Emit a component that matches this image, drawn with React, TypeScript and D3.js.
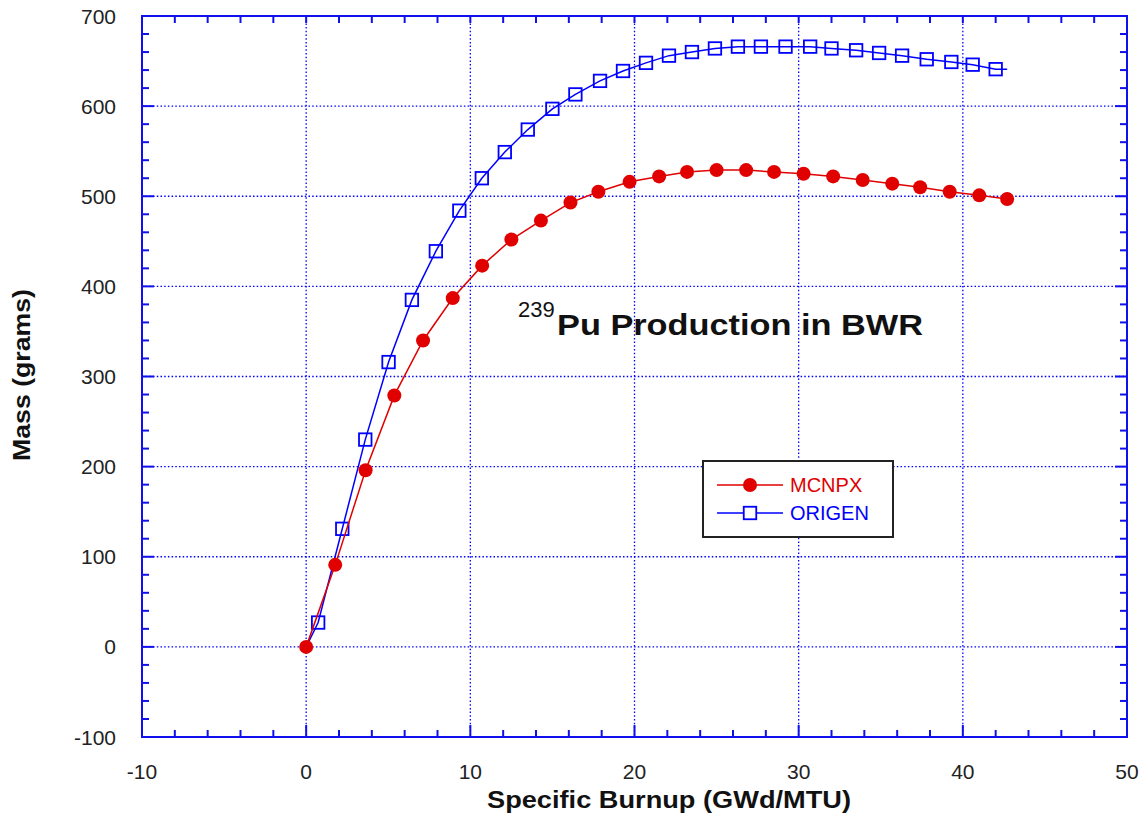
import React from "react";
import * as d3 from "d3";

const mcnpxX = [0, 1.77, 3.62, 5.37, 7.12, 8.93, 10.72, 12.5, 14.3, 16.1, 17.8, 19.7, 21.5, 23.2, 25.0, 26.8, 28.5, 30.3, 32.1, 33.9, 35.7, 37.4, 39.2, 41.0, 42.7];
const mcnpxY = [0, 91, 196, 279, 340, 387, 423, 452, 473, 493, 505, 516, 522, 527, 529, 529, 527, 525, 522, 518, 514, 510, 505, 501, 497];

const origenX = [0, 0.73, 2.2, 3.6, 5.02, 6.44, 7.9, 9.33, 10.7, 12.1, 13.5, 15.0, 16.4, 17.9, 19.3, 20.7, 22.1, 23.5, 24.9, 26.3, 27.7, 29.2, 30.7, 32.0, 33.5, 34.9, 36.3, 37.8, 39.3, 40.6, 42.0, 42.7];
const origenY = [0, 27, 131, 230, 316, 385, 439, 484, 520, 549, 574, 597, 613, 628, 639, 648, 656, 660, 664, 666, 666, 666, 666, 664, 662, 659, 656, 652, 649, 646, 641, 641];

const xTicks = [-10, 0, 10, 20, 30, 40, 50];
const yTicks = [-100, 0, 100, 200, 300, 400, 500, 600, 700];
const xMinor = d3.range(-10, 50.01, 2);
const yMinor = d3.range(-100, 700.01, 20);

const seriesNames = ["MCNPX", "ORIGEN"];
const titleSup = "239";
const titleMain = "Pu Production in BWR";
const xTitle = "Specific Burnup (GWd/MTU)";
const yTitle = "Mass (grams)";

const RED = "#e00000";
const BLUE = "#0000ff";
const AXIS = "#1010ee";

export default function App() {
  const W = 1146, H = 823;
  const x = d3.scaleLinear().domain([-10, 50]).range([142, 1127]);
  const y = d3.scaleLinear().domain([-100, 700]).range([737, 16]);
  const [x0, x1] = x.range();
  const [y0, y1] = y.range();

  const line = d3.line<[number, number]>().x(d => x(d[0])).y(d => y(d[1]));
  const red: [number, number][] = mcnpxX.map((v, i) => [v, mcnpxY[i]]);
  const blue: [number, number][] = origenX.map((v, i) => [v, origenY[i]]);
  const blueMarkers = blue.slice(1, blue.length - 1);

  const font = "'Liberation Sans', Arial, sans-serif";
  const majorLen = 12, minorLen = 7;
  const isMajorX = (v: number) => Math.abs(v % 10) < 1e-6;
  const isMajorY = (v: number) => Math.abs(v % 100) < 1e-6;

  const sq = 12.5;
  const cr = 7;

  return (
    <svg width={W} height={H} style={{ position: "absolute", left: 0, top: 0, background: "#fff" }} fontFamily={font}>
      <rect x={0} y={0} width={W} height={H} fill="#fff" />
      {/* grid */}
      <g stroke={BLUE} strokeWidth={1.3} strokeDasharray="1.5,2.2">
        {xTicks.filter(v => v > -10 && v < 50).map(v => (
          <line key={"gx" + v} x1={x(v)} x2={x(v)} y1={y1} y2={y0} />
        ))}
        {yTicks.filter(v => v > -100 && v < 700).map(v => (
          <line key={"gy" + v} x1={x0} x2={x1} y1={y(v)} y2={y(v)} />
        ))}
      </g>
      {/* ticks */}
      <g stroke={AXIS} strokeWidth={2}>
        {xMinor.map(v => {
          const L = isMajorX(v) ? majorLen : minorLen;
          return (
            <g key={"tx" + v}>
              <line x1={x(v)} x2={x(v)} y1={y0} y2={y0 - L} />
              <line x1={x(v)} x2={x(v)} y1={y1} y2={y1 + minorLen} />
            </g>
          );
        })}
        {yMinor.map(v => {
          const L = isMajorY(v) ? majorLen : minorLen;
          return (
            <g key={"ty" + v}>
              <line x1={x0} x2={x0 + L} y1={y(v)} y2={y(v)} />
              <line x1={x1} x2={x1 - L} y1={y(v)} y2={y(v)} />
            </g>
          );
        })}
      </g>
      {/* frame */}
      <rect x={x0} y={y1} width={x1 - x0} height={y0 - y1} fill="none" stroke={AXIS} strokeWidth={2} />
      {/* tick labels */}
      <g fontSize={21} fill="#222">
        {xTicks.map(v => (
          <text key={"lx" + v} x={x(v)} y={779} textAnchor="middle">{v}</text>
        ))}
        {yTicks.map(v => (
          <text key={"ly" + v} x={116} y={y(v) + 7.5} textAnchor="end">{v}</text>
        ))}
      </g>
      {/* axis titles */}
      <text x={(487 + 851) / 2} y={808} textAnchor="middle" fontSize={23} fontWeight="bold" fill="#111"
        textLength={364} lengthAdjust="spacingAndGlyphs">{xTitle}</text>
      <text transform={`translate(30, ${375}) rotate(-90)`} textAnchor="middle" fontSize={23} fontWeight="bold" fill="#111"
        textLength={172} lengthAdjust="spacingAndGlyphs">{yTitle}</text>
      {/* series: ORIGEN */}
      <path d={line(blue) || ""} fill="none" stroke={BLUE} strokeWidth={1.5} />
      {blueMarkers.map((d, i) => (
        <rect key={"b" + i} x={x(d[0]) - sq / 2} y={y(d[1]) - sq / 2} width={sq} height={sq}
          fill="none" stroke={BLUE} strokeWidth={1.8} />
      ))}
      {/* series: MCNPX */}
      <path d={line(red) || ""} fill="none" stroke={RED} strokeWidth={1.5} />
      {red.map((d, i) => (
        <circle key={"r" + i} cx={x(d[0])} cy={y(d[1])} r={cr} fill={RED} />
      ))}
      {/* annotation */}
      <text x={518} y={317} fontSize={22} fill="#111">{titleSup}</text>
      <text x={557} y={335} fontSize={29} fontWeight="bold" fill="#111" textLength={366} lengthAdjust="spacingAndGlyphs">{titleMain}</text>
      {/* legend */}
      <rect x={703} y={461} width={190} height={76} fill="#fff" stroke="#222" strokeWidth={2} />
      <line x1={717} x2={783} y1={485} y2={485} stroke={RED} strokeWidth={1.5} />
      <circle cx={750} cy={485} r={cr} fill={RED} />
      <text x={790} y={492} fontSize={20} fill={RED}>{seriesNames[0]}</text>
      <line x1={717} x2={783} y1={513} y2={513} stroke={BLUE} strokeWidth={1.5} />
      <rect x={750 - sq / 2} y={513 - sq / 2} width={sq} height={sq} fill="#fff" stroke={BLUE} strokeWidth={1.8} />
      <text x={790} y={520} fontSize={20} fill={BLUE}>{seriesNames[1]}</text>
    </svg>
  );
}
